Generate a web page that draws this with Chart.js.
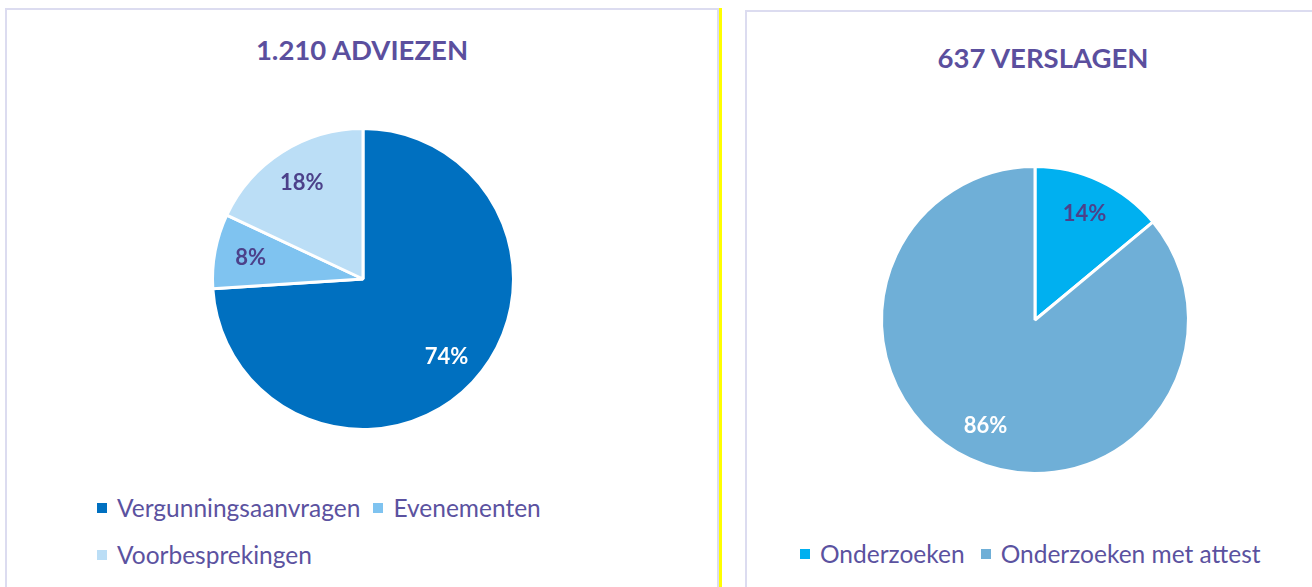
<!DOCTYPE html>
<html>
<head>
<meta charset="utf-8">
<script src="https://cdn.jsdelivr.net/npm/chart.js@4.4.1/dist/chart.umd.min.js"></script>
<style>
  body { margin: 0; width: 1312px; height: 587px; overflow: hidden; background: #fff; font-family: Lato, 'Open Sans', sans-serif; }
  .panel { position: absolute; border: 2px solid #dcdcf0; background: #fff; }
  .title { position: absolute; font-weight: bold; font-size: 27.5px; color: #5b4f9e; text-align: center; white-space: nowrap; }
  .legend { position: absolute; display: flex; flex-wrap: wrap; color: #5b52a0; font-size: 24.5px; }
  .legend .item { display: flex; align-items: center; height: 47px; margin-right: 13px; white-space: nowrap; }
  .legend .box { width: 10px; height: 10px; margin-right: 10px; }
  canvas { position: absolute; }
</style>
</head>
<body>
<div class="panel" style="left:5px; top:8px; width:710px; height:600px;"></div>
<div style="position:absolute; left:719px; top:8px; width:3px; height:590px; background:#ffff00;"></div>
<div class="panel" style="left:745px; top:10px; width:600px; height:600px;"></div>

<div class="title" style="left:162px; width:400px; top:33px;">1.210 ADVIEZEN</div>
<div class="title" style="left:843px; width:400px; top:41px;">637 VERSLAGEN</div>

<div style="position:absolute; left:201px; top:117px; width:324px; height:324px;"><canvas id="adviezen"></canvas></div>
<div style="position:absolute; left:870px; top:155px; width:330px; height:330px;"><canvas id="verslagen"></canvas></div>

<div class="legend" id="legendAdviezen" style="left:97px; top:484px; width:470px;"></div>
<div class="legend" id="legendVerslagen" style="left:800px; top:530px; width:510px;"></div>

<script>
// adviezen (1.210 in totaal)
const adviezenLabels = ['Vergunningsaanvragen', 'Evenementen', 'Voorbesprekingen'];
const adviezenValues = [895, 97, 218];
const adviezenColors = ['#0070c0', '#7fc3f0', '#bbdef6'];
const adviezenLabelColors = ['#ffffff', '#4c418a', '#4c418a'];

// verslagen (637 in totaal)
const verslagenLabels = ['Onderzoeken', 'Onderzoeken met attest'];
const verslagenValues = [89, 548];
const verslagenColors = ['#00b0f0', '#6fafd7'];
const verslagenLabelColors = ['#4c418a', '#ffffff'];

// draws the percentage inside each slice
const percentLabels = {
  id: 'percentLabels',
  afterDatasetsDraw(chart, args, opts) {
    const ctx = chart.ctx;
    const ds = chart.data.datasets[0];
    const total = ds.data.reduce((a, b) => a + b, 0);
    const meta = chart.getDatasetMeta(0);
    ctx.save();
    ctx.font = 'bold 22px Lato, "Open Sans", sans-serif';
    ctx.textAlign = 'center';
    ctx.textBaseline = 'middle';
    meta.data.forEach((arc, i) => {
      const mid = (arc.startAngle + arc.endAngle) / 2;
      const r = arc.outerRadius * 0.76;
      const x = arc.x + Math.cos(mid) * r;
      const y = arc.y + Math.sin(mid) * r;
      ctx.fillStyle = opts.colors[i];
      ctx.fillText(Math.round(ds.data[i] / total * 100) + '%', x, y);
    });
    ctx.restore();
  }
};

function makePie(id, labels, values, colors, labelColors) {
  return new Chart(document.getElementById(id), {
    type: 'pie',
    data: {
      labels: labels,
      datasets: [{
        data: values,
        backgroundColor: colors,
        borderColor: '#ffffff',
        borderWidth: 3,
        hoverOffset: 0
      }]
    },
    options: {
      responsive: true,
      maintainAspectRatio: false,
      animation: false,
      layout: { padding: 10 },
      plugins: {
        legend: { display: false },
        tooltip: { enabled: false },
        percentLabels: { colors: labelColors }
      }
    },
    plugins: [percentLabels]
  });
}

function makeLegend(id, labels, colors, gap) {
  const el = document.getElementById(id);
  labels.forEach((l, i) => {
    const item = document.createElement('div');
    item.className = 'item';
    item.style.marginRight = gap + 'px';
    item.innerHTML = '<span class="box" style="background:' + colors[i] + '"></span>' + l;
    el.appendChild(item);
  });
}

makePie('adviezen', adviezenLabels, adviezenValues, adviezenColors, adviezenLabelColors);
makePie('verslagen', verslagenLabels, verslagenValues, verslagenColors, verslagenLabelColors);
makeLegend('legendAdviezen', adviezenLabels, adviezenColors, 13);
makeLegend('legendVerslagen', verslagenLabels, verslagenColors, 16);
</script>
</body>
</html>
